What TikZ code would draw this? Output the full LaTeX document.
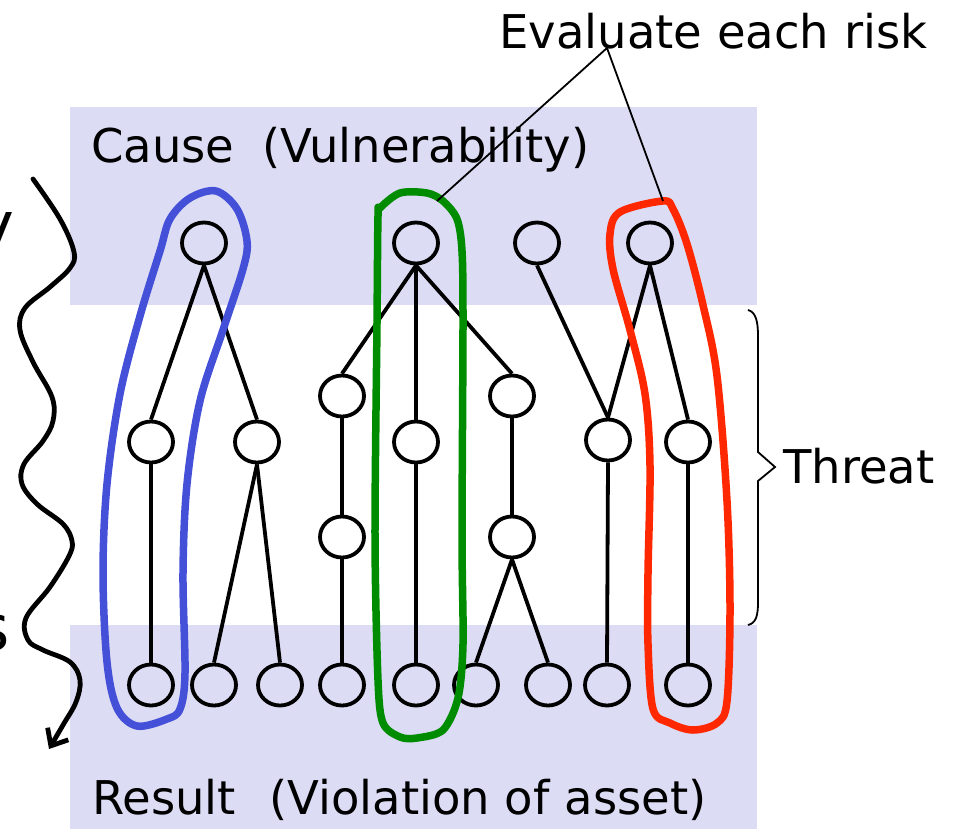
\documentclass[tikz,border=0pt]{standalone}
\usepackage{fontspec}
\setmainfont{DejaVu Sans}
\usetikzlibrary{shapes.geometric,arrows.meta}
\definecolor{band}{RGB}{220,220,244}
\definecolor{loopblue}{RGB}{68,80,216}
\definecolor{loopgreen}{RGB}{0,140,0}
\definecolor{loopred}{RGB}{255,40,0}
\tikzset{
  nd/.style={draw, ellipse, minimum width=44pt, minimum height=41pt, inner sep=0pt, line width=3.8pt},
  edge/.style={line width=3.8pt},
  riskloop/.style={line width=7.5pt, line join=round},
  lbl/.style={inner sep=0pt, anchor=base west, font=\fontsize{46.5}{56}\selectfont},
  bigpart/.style={inner sep=0pt, anchor=base east, font=\fontsize{64}{76}\selectfont},
  thin/.style={line width=1.8pt}
}
\begin{document}
\begin{tikzpicture}[x=1pt, y=-1pt]
\useasboundingbox (0,0) rectangle (957,829);

% shaded bands
\fill[band] (70,107) rectangle (757,305);
\fill[band] (70,625) rectangle (757,829);

% nodes: causes
\node[nd] (a1) at (204,243) {};
\node[nd] (b1) at (416,243) {};
\node[nd] (c1) at (537,243) {};
\node[nd] (d1) at (650,243) {};
% nodes: threats
\node[nd] (b2) at (342,396) {};
\node[nd] (b3) at (512,396) {};
\node[nd] (a2) at (151,442) {};
\node[nd] (a3) at (257,442) {};
\node[nd] (b4) at (416,442) {};
\node[nd] (d2) at (608,440) {};
\node[nd] (d3) at (688,442) {};
\node[nd] (b5) at (342,537) {};
\node[nd] (b6) at (512,537) {};
% nodes: results
\node[nd] (r1) at (151,685) {};
\node[nd] (r2) at (214,685) {};
\node[nd] (r3) at (280,685) {};
\node[nd] (r4) at (342,685) {};
\node[nd] (r5) at (416,685) {};
\node[nd] (r6) at (476,685) {};
\node[nd] (r7) at (548,685) {};
\node[nd] (r8) at (607,685) {};
\node[nd] (r9) at (688,685) {};

% edges
\draw[edge] (a1.south) -- (a2.north);
\draw[edge] (a1.south) -- (a3.north);
\draw[edge] (a2.south) -- (r1.north);
\draw[edge] (a3.south) -- (r2.north);
\draw[edge] (a3.south) -- (r3.north);
\draw[edge] (b1.south) -- (b2.north);
\draw[edge] (b1.south) -- (b4.north);
\draw[edge] (b1.south) -- (b3.north);
\draw[edge] (b2.south) -- (b5.north);
\draw[edge] (b5.south) -- (r4.north);
\draw[edge] (b4.south) -- (r5.north);
\draw[edge] (b3.south) -- (b6.north);
\draw[edge] (b6.south) -- (r6.north);
\draw[edge] (b6.south) -- (r7.north);
\draw[edge] (c1.south) -- (d2.north);
\draw[edge] (d1.south) -- (d2.north);
\draw[edge] (d1.south) -- (d3.north);
\draw[edge] (d2.south) -- (r8.north);
\draw[edge] (d3.south) -- (r9.north);

% risk loops
\draw[riskloop, loopblue] plot[smooth cycle, tension=0.55] coordinates {
  (216,191) (190,198) (170,219) (160,251) (140,316) (120,394) (107,484)
  (103,573) (107,662) (117,708) (137,726) (167,719) (180,709) (185,673)
  (183,573) (187,484) (200,401) (223,330) (243,269) (247,241) (237,209)};
\draw[riskloop, loopgreen] plot[smooth cycle, tension=0.5] coordinates {
  (380,208) (400,193) (427,193) (443,201) (457,219) (462,251) (463,323)
  (462,537) (463,644) (458,698) (443,730) (417,738) (400,737) (383,723)
  (378,680) (375,537) (377,323) (378,216)};
\draw[riskloop, loopred] plot[smooth cycle, tension=0.55] coordinates {
  (663,201) (620,212) (610,234) (613,269) (630,330) (645,394) (650,466)
  (648,573) (648,644) (653,709) (670,723) (693,730) (717,723) (727,701)
  (730,609) (727,501) (717,376) (703,305) (687,244) (673,209)};

% callout
\coordinate (ev) at (607,48);
\coordinate (gtip) at (437,201);
\coordinate (rtip) at (663,201);
\draw[thin] (gtip) -- (ev) -- (rtip);

% brace for the threat layer
\draw[thin] (748,310) .. controls (756,312) and (758,322) .. (758,336)
  -- (758,452) -- (775,467) -- (758,481) -- (758,602)
  .. controls (758,616) and (756,623) .. (748,625);

% labels (wide gap before the parenthesis)
\node[lbl] (cause) at (91,163) {Cause\hspace{0.6em}(Vulnerability)};
\node[lbl] (result) at (92,814) {Result\hspace{0.72em}(Violation of asset)};
\node[lbl] (evaluate) at (499,49) {Evaluate each risk};
\node[lbl] (threat) at (783,483) {Threat};
\node[bigpart] (ytail) at (15,247) {y};
\node[bigpart] (stail) at (10,650) {s};

% wavy time arrow
\draw[line width=4.8pt, line cap=round, -{Straight Barb[length=14pt,width=24pt]}]
  plot[smooth, tension=0.6] coordinates {
  (33,179) (60,219) (74,252) (70,268) (50,287) (25,308) (20,330) (33,362)
  (52,397) (53,421) (43,441) (24,464) (22,484) (37,504) (63,524) (72,541)
  (69,556) (50,587) (26,618) (28,640) (43,650) (70,662) (80,680) (76,702)
  (63,725) (49,749)};
\end{tikzpicture}
\end{document}
